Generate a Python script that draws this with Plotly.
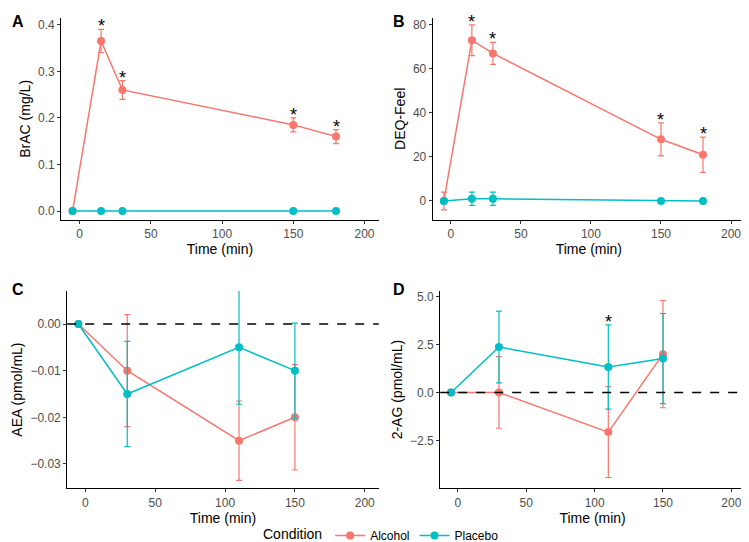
import plotly.graph_objects as go

RED = "#F8766D"; TEAL = "#00BFC4"
tAB = [-5, 15, 30, 150, 180]
tCD = [-5, 30, 110, 150]
A_alc = [0, 0.365, 0.26, 0.185, 0.16]; A_alc_e = [0, 0.025, 0.02, 0.015, 0.015]
A_pla = [0, 0, 0, 0, 0]; A_pla_e = [0, 0, 0, 0, 0]
B_alc = [0, 73, 67, 28, 21]; B_alc_e = [4, 7, 5, 7.5, 8]
B_pla = [0, 1, 1, 0, 0]; B_pla_e = [0, 3, 3, 0, 0]
C_alc = [0, -0.010, -0.025, -0.020]; C_alc_e = [0, 0.012, 0.0085, 0.0113]
C_pla = [0, -0.015, -0.005, -0.010]; C_pla_e = [0, 0.0113, 0.0122, 0.0102]
D_alc = [0, 0, -2.07, 2.0]; D_alc_e = [0, 1.87, 2.37, 2.8]
D_pla = [0, 2.37, 1.33, 1.77]; D_pla_e = [0, 1.87, 2.2, 2.35]

fig = go.Figure()
panels = [
    ("x", "y", tAB, A_alc, A_alc_e, A_pla, A_pla_e),
    ("x2", "y2", tAB, B_alc, B_alc_e, B_pla, B_pla_e),
    ("x3", "y3", tCD, C_alc, C_alc_e, C_pla, C_pla_e),
    ("x4", "y4", tCD, D_alc, D_alc_e, D_pla, D_pla_e),
]
for i, (xa, ya, t, a, ae, p, pe) in enumerate(panels):
    for name, vals, errs, col in [("Alcohol", a, ae, RED), ("Placebo", p, pe, TEAL)]:
        fig.add_trace(go.Scatter(x=t, y=vals, xaxis=xa, yaxis=ya, name=name, mode="lines+markers",
                                 line=dict(color=col, width=1.5), marker=dict(color=col, size=8),
                                 error_y=dict(type="data", array=errs, color=col, thickness=1.2, width=3),
                                 showlegend=(i == 0), legendgroup=name))

# significance stars
for xa, ya, t, a, ae in [("x", "y", tAB, A_alc, A_alc_e), ("x2", "y2", tAB, B_alc, B_alc_e)]:
    for k in range(1, 5):
        fig.add_annotation(x=t[k], y=a[k] + ae[k], xref=xa, yref=ya, text="*", showarrow=False,
                           font=dict(size=18, color="black"), yanchor="bottom", yshift=-9)
fig.add_annotation(x=tCD[2], y=D_pla[2] + D_pla_e[2], xref="x4", yref="y4", text="*", showarrow=False,
                   font=dict(size=18, color="black"), yanchor="bottom", yshift=-9)

ax = dict(showline=True, linecolor="black", linewidth=1, showgrid=False, zeroline=False, ticks="outside",
          ticklen=3, tickcolor="#333", tickfont=dict(size=12, color="#4d4d4d"), automargin=False)
xr = [-13, 210]
xt = dict(tickvals=[0, 50, 100, 150, 200], title=dict(text="Time (min)", font=dict(size=14, color="black"), standoff=2))
fig.update_layout(
    width=749, height=542, margin=dict(l=0, r=0, t=0, b=0, autoexpand=False), plot_bgcolor="white", paper_bgcolor="white",
    font=dict(family="Liberation Sans, Arial", color="black"),
    xaxis=dict(**ax, **xt, domain=[0.071, 0.495], range=xr, anchor="y"),
    yaxis=dict(**ax, domain=[0.609, 0.982], range=[-0.019, 0.415], tickvals=[0, 0.1, 0.2, 0.3, 0.4],
               tickformat=".1f", title=dict(text="BrAC (mg/L)", font=dict(size=14), standoff=4), anchor="x"),
    xaxis2=dict(**ax, **xt, domain=[0.567, 0.984], range=xr, anchor="y2"),
    yaxis2=dict(**ax, domain=[0.609, 0.982], range=[-8.6, 83.2], tickvals=[0, 20, 40, 60, 80],
                title=dict(text="DEQ-Feel", font=dict(size=14), standoff=4), anchor="x2"),
    xaxis3=dict(**ax, **xt, domain=[0.079, 0.495], range=xr, anchor="y3"),
    yaxis3=dict(**ax, domain=[0.114, 0.478], range=[-0.0352, 0.0071], tickvals=[0, -0.01, -0.02, -0.03],
                tickformat=".2f", title=dict(text="AEA (pmol/mL)", font=dict(size=14), standoff=4), anchor="x3"),
    xaxis4=dict(**ax, **xt, domain=[0.577, 0.984], range=xr, anchor="y4"),
    yaxis4=dict(**ax, domain=[0.114, 0.478], range=[-5.0, 5.3], tickvals=[-2.5, 0, 2.5, 5.0],
                tickformat=".1f", title=dict(text="2-AG (pmol/mL)", font=dict(size=14), standoff=4), anchor="x4"),
    legend=dict(orientation="h", x=0.5, xanchor="center", y=0.0, yanchor="bottom",
                title=dict(text="Condition", font=dict(size=14)), font=dict(size=12)),
)
for xa, ya in [("x3", "y3"), ("x4", "y4")]:
    fig.add_shape(type="line", xref=f"{xa} domain", yref=ya, x0=0, x1=1, y0=0, y1=0,
                  line=dict(color="black", width=1.5, dash="dash"))
for txt, x, y in [("A", 0.003, 0.995), ("B", 0.512, 0.995), ("C", 0.003, 0.50), ("D", 0.512, 0.50)]:
    fig.add_annotation(text=f"<b>{txt}</b>", x=x, y=y, xref="paper", yref="paper", showarrow=False,
                       xanchor="left", yanchor="top", font=dict(size=16, color="black"))
fig.write_html("out.html")
